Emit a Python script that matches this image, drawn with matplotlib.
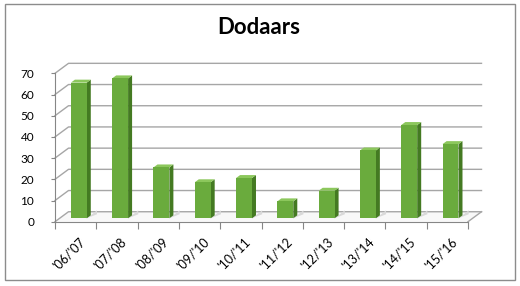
import matplotlib
matplotlib.use("Agg")
import matplotlib.pyplot as plt
from matplotlib.patches import Polygon, Rectangle

seasons = ["'06/'07", "'07/'08", "'08/'09", "'09/'10", "'10/'11",
           "'11/'12", "'12/'13", "'13/'14", "'14/'15", "'15/'16"]
counts = [64, 66, 24, 17, 19, 8, 13, 32, 44, 35]
yticks = [0, 10, 20, 30, 40, 50, 60, 70]

plt.rcParams['font.family'] = ['Lato', 'DejaVu Sans']

W, H = 520, 286
fig = plt.figure(figsize=(W / 100, H / 100), dpi=100)
fig.patches.append(Rectangle((4.5 / W, 6 / H), 510.5 / W, 276.5 / H,
                             transform=fig.transFigure, fill=False,
                             edgecolor='#8c8c8c', lw=1))
fig.text(259 / W, 1 - 28 / H, 'Dodaars', ha='center', va='center',
         fontsize=16, fontweight='bold')

ax = fig.add_axes([55 / W, 1 - 221.7 / H, 413 / W, 148.4 / H])
ax.set_xlim(0, len(counts))
ax.set_ylim(0, 70)

# depth of the 3d box (data units)
dx, dy = 0.327, 4.7
n = len(counts)
grid_c = '#a6a6a6'

# floor
ax.add_patch(Polygon([(0, 0), (n, 0), (n + dx, dy), (dx, dy)], closed=True,
                     facecolor='#f8f8f8', edgecolor='none', zorder=0, clip_on=False))
ax.plot([n, n + dx], [0, dy], color='#a6a6a6', lw=1, zorder=1, clip_on=False)

# walls gridlines
for v in yticks:
    ax.plot([0, dx, n + dx], [v, v + dy, v + dy], color=grid_c, lw=1,
            zorder=1, clip_on=False)

# bars
w = 0.385
ox, oy = 0.077, 1.6
sx, sy = 0.097, 1.4
front = '#6aab3d'
side = '#447a22'
top = '#8cc75c'
for i, v in enumerate(counts):
    x0 = i + 0.5 + ox - w / 2
    x1 = x0 + w
    y1 = oy + v
    # floor shadow
    ax.add_patch(Polygon([(x1, oy), (x1 + sx + 0.15, oy + sy + 0.5),
                          (x1 + sx + 0.15, oy + sy + 2.4), (x1 + sx, oy + sy)],
                         closed=True, facecolor='#d9d9d9', edgecolor='none',
                         zorder=1.5, clip_on=False))
    ax.add_patch(Polygon([(x1, oy), (x1 + sx, oy + sy), (x1 + sx, y1 + sy), (x1, y1)],
                         closed=True, facecolor=side, edgecolor='none',
                         zorder=2, clip_on=False))
    ax.add_patch(Polygon([(x0, y1), (x1, y1), (x1 + sx, y1 + sy), (x0 + sx, y1 + sy)],
                         closed=True, facecolor=top, edgecolor='none',
                         zorder=2, clip_on=False))
ax.bar([i + 0.5 + ox for i in range(n)], counts, width=w, bottom=oy,
       color=front, edgecolor='none', zorder=3, clip_on=False)

for s in ['top', 'right']:
    ax.spines[s].set_visible(False)
for s in ['left', 'bottom']:
    ax.spines[s].set_color('#868686')
    ax.spines[s].set_zorder(4)
ax.patch.set_visible(False)

ax.set_yticks(yticks)
ax.tick_params(axis='y', length=3, color='#868686', pad=12, labelsize=8.5)
ax.set_xticks(range(n + 1))
ax.set_xticklabels([])
ax.tick_params(axis='x', which='major', length=5, color='#868686')
ax.set_xticks([i + 0.58 for i in range(n)], seasons, minor=True)
ax.tick_params(axis='x', which='minor', length=0, pad=10, labelsize=9)
for lab in ax.get_xticklabels(minor=True):
    lab.set_rotation(45)
    lab.set_ha('right')
    lab.set_rotation_mode('anchor')

fig.savefig('out.png', dpi=100)
